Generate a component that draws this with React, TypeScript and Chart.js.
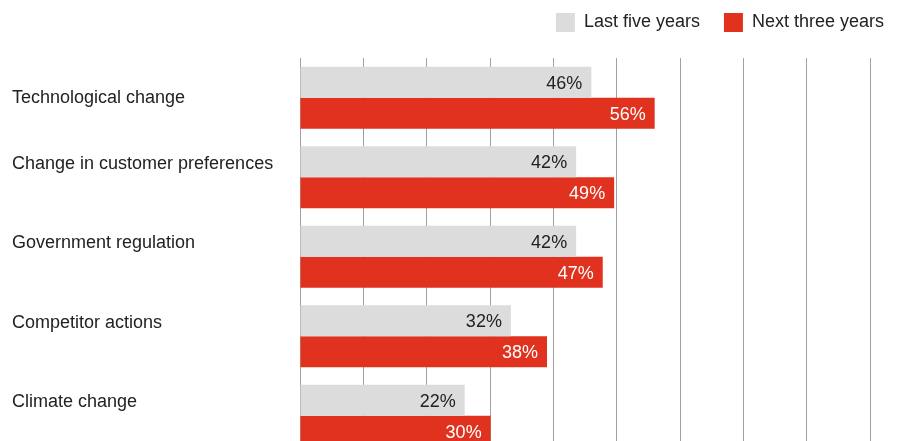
import React, { useEffect, useRef } from "react";
import { Chart, registerables } from "chart.js";

Chart.register(...registerables);

const categories = [
  "Technological change",
  "Change in customer preferences",
  "Government regulation",
  "Competitor actions",
  "Climate change",
];
const seriesNames = ["Last five years", "Next three years"];
// Bar lengths as drawn in the reference (in %)
const lastFiveYears = [46, 43.6, 43.6, 33.3, 26.0];
const nextThreeYears = [56, 49.6, 47.8, 39.0, 30.1];
// Value labels printed on the bars
const lastFiveYearsLabels = ["46%", "42%", "42%", "32%", "22%"];
const nextThreeYearsLabels = ["56%", "49%", "47%", "38%", "30%"];

const FONT = "'Liberation Sans', Arial, Helvetica, sans-serif";
const GREY = "#dcdcdc";
const RED = "#e0321f";
const TEXT = "#222222";

const barLabelSets = [lastFiveYearsLabels, nextThreeYearsLabels];

const valueLabels = {
  id: "valueLabels",
  afterDatasetsDraw(chart: any) {
    const ctx = chart.ctx;
    ctx.save();
    ctx.font = `18px ${FONT}`;
    ctx.textAlign = "right";
    ctx.textBaseline = "middle";
    chart.data.datasets.forEach((_ds: any, di: number) => {
      const meta = chart.getDatasetMeta(di);
      ctx.fillStyle = di === 0 ? TEXT : "#ffffff";
      meta.data.forEach((bar: any, i: number) => {
        ctx.fillText(barLabelSets[di][i], bar.x - 9, bar.y + 1.5);
      });
    });
    ctx.restore();
  },
};

export default function App() {
  const ref = useRef<HTMLCanvasElement>(null);

  useEffect(() => {
    if (!ref.current) return;
    const chart = new Chart(ref.current, {
      type: "bar",
      data: {
        labels: categories,
        datasets: [
          {
            label: seriesNames[0],
            data: lastFiveYears,
            backgroundColor: GREY,
            borderWidth: 0,
            barPercentage: 1,
            categoryPercentage: 0.78,
          },
          {
            label: seriesNames[1],
            data: nextThreeYears,
            backgroundColor: RED,
            borderWidth: 0,
            barPercentage: 1,
            categoryPercentage: 0.78,
          },
        ],
      },
      options: {
        indexAxis: "y",
        responsive: false,
        animation: false,
        devicePixelRatio: 1,
        layout: { padding: { left: 12, right: 0, top: 0, bottom: 0 } },
        plugins: {
          tooltip: { enabled: false },
          legend: {
            position: "top",
            align: "end",
            labels: {
              boxWidth: 19,
              boxHeight: 19,
              padding: 24,
              color: TEXT,
              font: { family: FONT, size: 18 },
            },
          },
        },
        scales: {
          x: {
            position: "top",
            min: 0,
            max: 96,
            ticks: { display: false, stepSize: 10 },
            grid: { color: "#a0a0a0", lineWidth: 1, drawTicks: false },
            border: { display: false },
            afterFit: (s: any) => {
              s.height = 16;
            },
          },
          y: {
            ticks: {
              crossAlign: "far",
              autoSkip: false,
              padding: 0,
              color: TEXT,
              font: { family: FONT, size: 18, lineHeight: 1.5 },
              callback: (_v: any, i: number) =>
                i === 0 ? categories[i] : [categories[i], ""],
            },
            grid: { display: false, drawTicks: false },
            border: { display: false },
            afterFit: (s: any) => {
              s.width = 288;
            },
          },
        },
      },
      plugins: [valueLabels],
    });
    return () => chart.destroy();
  }, []);

  return (
    <div
      style={{
        position: "absolute",
        top: 0,
        left: 0,
        width: 901,
        height: 441,
        overflow: "hidden",
        background: "#ffffff",
      }}
    >
      <canvas
        ref={ref}
        width={908}
        height={480}
        style={{ position: "absolute", top: -11, left: 0, width: 908, height: 480 }}
      />
    </div>
  );
}
